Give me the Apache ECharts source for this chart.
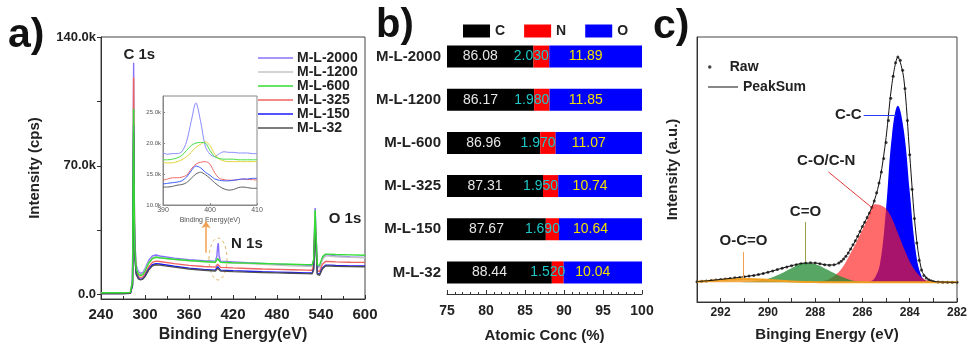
<!DOCTYPE html>
<html>
<head>
<meta charset="utf-8">
<script src="https://cdn.jsdelivr.net/npm/echarts@6/dist/echarts.min.js"></script>
<style>
  html, body { margin: 0; padding: 0; background: #fff; }
  #chart { width: 970px; height: 348px; }
</style>
</head>
<body>
<div id="chart"></div>
<script>
// ---- panel a: XPS survey (values in k counts) ----
const surveyEnergy = [240, 270, 280, 282, 283, 283.8, 284.5, 285.3, 286, 288, 291, 294, 297, 300, 305, 310, 315, 320, 340, 360,
  380, 396, 398, 399, 400, 401, 403, 420, 440, 460, 480, 500, 520, 528, 530, 531, 532, 533, 535, 538, 542, 546, 550, 560, 580, 600];
const survey2000 = [0.8, 0.8, 1.0, 1.5, 8, 70, 126, 60, 30, 16, 12.5, 11.5, 12, 14, 18.5, 21, 21.5, 21, 19.8, 19,
  18.4, 18.2, 21, 26, 28, 21, 18.2, 17.8, 17.3, 16.9, 16.5, 16.2, 15.9, 15.8, 19, 33, 47, 36, 16, 15, 19.5, 21.5, 21.5, 21, 20.5, 20.2];
const survey1200 = [0.7, 0.7, 0.9, 1.4, 7, 66, 118, 56, 28, 15, 11.5, 10.8, 11.3, 13.3, 17.5, 20, 20.5, 20, 19, 18.3,
  17.8, 17.6, 18.5, 20, 20.5, 19, 17.6, 17.2, 16.8, 16.4, 16, 15.7, 15.4, 15.3, 18, 31, 44, 34, 15, 14.5, 19, 21, 21, 20.6, 20.2, 20];
const survey600 = [1.0, 1.0, 1.2, 1.6, 7, 58, 101, 48, 25, 14, 11, 10.3, 10.8, 12.8, 17, 19.5, 20.3, 20, 19.2, 18.5,
  18, 17.6, 18.2, 19.5, 20, 18.8, 17.6, 17.3, 17.1, 16.9, 16.7, 16.5, 16.3, 16.2, 19, 33, 46, 34, 16, 16, 20.5, 22, 22, 21.8, 21.6, 21.4];
const survey325 = [0.6, 0.6, 0.8, 1.2, 6, 62, 118, 55, 27, 13, 9.8, 9.2, 9.6, 11.3, 15, 17.5, 18.2, 18, 16.8, 15.9,
  15.3, 14.9, 15.5, 16.5, 17, 16, 14.8, 14.5, 14.2, 13.9, 13.7, 13.5, 13.3, 13.2, 16, 29, 41, 30, 13, 12.5, 16.5, 18, 18, 17.8, 17.6, 17.5];
const survey150 = [0.5, 0.5, 0.7, 1.1, 5, 50, 92, 44, 22, 11.5, 8.8, 8.3, 8.7, 10.2, 13.8, 16.2, 16.8, 16.6, 15.4, 14.4,
  13.7, 13.3, 13.9, 15.2, 15.5, 14.3, 13.3, 13, 12.7, 12.4, 12.2, 12, 11.8, 11.7, 14, 27, 39, 28, 11.5, 11, 14.5, 16, 16, 15.8, 15.6, 15.5];
const survey32 = [0.5, 0.5, 0.7, 1.0, 5, 48, 88, 42, 21, 11, 8.5, 8, 8.4, 9.8, 13.3, 15.6, 16.2, 16, 14.9, 13.9,
  13.2, 12.8, 13.3, 14.3, 14.6, 13.7, 12.8, 12.5, 12.2, 12, 11.8, 11.6, 11.4, 11.3, 13.5, 26, 38, 27, 11, 10.5, 14, 15.5, 15.6, 15.4, 15.2, 15.1];
const surveyTicks = [0, 70000, 140000];

// inset: N 1s region (k counts)
const insetEnergy = [390, 391, 392, 393, 394, 395, 396, 397, 398, 399, 400, 401, 402, 403, 404, 405, 406, 407, 408, 409, 410];
const inset2000 = [18.4, 18.2, 18.3, 18.3, 18.6, 20.2, 23.5, 26.5, 23.5, 19.5, 18.2, 17.8, 18.3, 18.6, 18.5, 18.5, 18.4, 18.4, 18.4, 18.3, 18.3];
const inset1200 = [16.9, 16.8, 16.8, 17.0, 17.3, 17.8, 18.5, 19.3, 19.8, 20.2, 19.6, 18.2, 17.4, 17.1, 17.0, 17.0, 17.0, 17.0, 17.0, 17.0, 17.0];
const inset600 = [17.3, 17.3, 17.4, 17.6, 18.0, 18.8, 19.6, 20.0, 20.1, 20.0, 18.8, 17.8, 17.5, 17.4, 17.4, 17.4, 17.3, 17.3, 17.3, 17.3, 17.3];
const inset325 = [14.0, 14.2, 14.4, 14.4, 14.5, 14.8, 15.8, 16.6, 16.9, 17.0, 16.6, 15.2, 14.3, 14.1, 14.0, 14.0, 14.1, 14.2, 14.1, 14.1, 14.0];
const inset150 = [13.4, 13.5, 13.6, 13.7, 13.9, 14.5, 15.5, 16.3, 16.0, 15.3, 14.8, 14.2, 14.0, 13.9, 13.9, 14.0, 14.1, 14.2, 14.2, 14.3, 14.3];
const inset32 = [12.9, 12.9, 13.0, 13.2, 13.3, 13.6, 14.3, 15.0, 15.3, 14.9, 14.3, 13.6, 13.0, 12.6, 12.4, 12.5, 12.8, 12.9, 12.8, 12.7, 12.7];
const insetTicks = [10000, 15000, 20000, 25000];

// ---- panel b: atomic concentration ----
const samples = ['M-L-2000', 'M-L-1200', 'M-L-600', 'M-L-325', 'M-L-150', 'M-L-32'];
const concC = [86.08, 86.17, 86.96, 87.31, 87.67, 88.44];
const concN = [2.03, 1.98, 1.97, 1.95, 1.69, 1.52];
const concO = [11.89, 11.85, 11.07, 10.74, 10.64, 10.04];

// ---- panel c: C 1s fit ----
const c1sEnergy = [293, 292.5, 292, 291.5, 291, 290.5, 290, 289.5, 289, 288.5, 288, 287.5, 287.25, 287, 286.75, 286.5,
  286.25, 286, 285.75, 285.5, 285.25, 285, 284.75, 284.5, 284.25, 284, 283.75, 283.5, 283.25, 283, 282.5, 282];
const peakSum = [0.3, 0.7, 1.2, 1.7, 2.3, 3.0, 4.1, 5.5, 6.8, 7.8, 7.9, 7.1, 7.1, 7.9, 10.0, 13.6,
  17.8, 22.8, 27.4, 33.2, 42.5, 59.0, 81.0, 91.8, 83.0, 52.0, 21.0, 5.0, 1.5, 0.4, 0.1, 0.0];
const peakCC = [0, 0, 0, 0, 0, 0, 0, 0, 0, 0, 0, 0, 0, 0, 0, 0,
  0, 0, 0.3, 1.5, 8, 30, 60, 72, 62, 37, 13, 2.5, 0.4, 0, 0, 0];
const peakCO = [0, 0, 0, 0, 0, 0, 0, 0, 0, 0, 0.2, 1.0, 2.2, 4.2, 7.5, 12.0,
  16.5, 21.5, 26.5, 31.8, 31.5, 30.0, 26.0, 20.0, 14.0, 8.5, 4.5, 2.0, 0.7, 0.2, 0, 0];
const peakCdO = [0, 0, 0, 0.1, 0.2, 0.6, 1.5, 3.3, 5.8, 7.9, 7.4, 5.2, 4.0, 2.8, 1.8, 1.0,
  0.5, 0.3, 0.1, 0, 0, 0, 0, 0, 0, 0, 0, 0, 0, 0, 0, 0];
const peakOCdO = [0.3, 0.6, 1.0, 1.3, 1.4, 1.3, 1.0, 0.7, 0.4, 0.2, 0.1, 0, 0, 0, 0, 0,
  0, 0, 0, 0, 0, 0, 0, 0, 0, 0, 0, 0, 0, 0, 0, 0];
const rawEnergy = [293.0, 292.8, 292.6, 292.4, 292.2, 292.0, 291.8, 291.6, 291.4, 291.2, 291.0, 290.8, 290.6, 290.4, 290.2, 290.0,
  289.8, 289.6, 289.4, 289.2, 289.0, 288.8, 288.6, 288.4, 288.2, 288.0, 287.8, 287.6, 287.4, 287.2, 287.0,
  286.9, 286.8, 286.7, 286.6, 286.5, 286.4, 286.3, 286.2, 286.1, 286.0, 285.9, 285.8, 285.7, 285.6, 285.5, 285.4, 285.3, 285.2, 285.1,
  285.0, 284.9, 284.8, 284.7, 284.6, 284.5, 284.4, 284.3, 284.2, 284.1, 284.0, 283.9, 283.8, 283.7, 283.6, 283.5, 283.4, 283.3, 283.2, 283.1,
  283.0, 282.8, 282.6, 282.4, 282.2, 282.0];
const rawCounts = [0.3, 0.5, 0.6, 0.8, 1.0, 1.2, 1.4, 1.6, 1.9, 2.0, 2.3, 2.6, 2.8, 3.2, 3.6, 4.1,
  4.6, 5.2, 5.8, 6.3, 6.8, 7.2, 7.6, 7.9, 8.0, 7.9, 7.6, 7.2, 7.0, 7.2, 7.9,
  8.6, 9.5, 10.6, 12.0, 13.6, 15.3, 17.0, 18.8, 20.7, 22.8, 24.5, 26.4, 28.3, 30.5, 33.2, 36.5, 40.5, 45.0, 50.5,
  57.0, 66.0, 75.0, 84.0, 89.5, 91.8, 90.5, 86.5, 79.0, 66.0, 52.0, 38.0, 26.0, 16.0, 9.0, 5.0, 2.8, 1.8, 1.1, 0.7,
  0.4, 0.2, 0.1, 0.1, 0.0, 0.0];
const c1sTicks = [282, 284, 286, 288, 290, 292];
const c1sMinorTicks = [282, 283, 284, 285, 286, 287, 288, 289, 290, 291, 292, 293];

const FONT = '"Liberation Sans", Arial, sans-serif';
const INK = '#222';
const pair = (xs, ys, k) => xs.map((x, i) => [x, ys[i] * (k || 1)]);
const boldText = (size, extra) => Object.assign({ fontFamily: FONT, fontWeight: 'bold', fontSize: size, color: INK }, extra || {});

const chart = echarts.init(document.getElementById('chart'));

const surveyStyle = {
  'M-L-2000': '#8a70ff', 'M-L-1200': '#c4c4c4', 'M-L-600': '#33dd33',
  'M-L-325': '#f06262', 'M-L-150': '#1a1aff', 'M-L-32': '#505050'
};
const surveyData = {
  'M-L-2000': survey2000, 'M-L-1200': survey1200, 'M-L-600': survey600,
  'M-L-325': survey325, 'M-L-150': survey150, 'M-L-32': survey32
};
// draw order: green ends up on top of the spike
const drawOrder = ['M-L-2000', 'M-L-1200', 'M-L-325', 'M-L-150', 'M-L-32', 'M-L-600'];

const series = drawOrder.map(name => ({
  name: name, type: 'line', xAxisIndex: 0, yAxisIndex: 0,
  data: pair(surveyEnergy, surveyData[name], 1000),
  symbol: 'none', lineStyle: { color: surveyStyle[name], width: 1.4 },
  itemStyle: { color: surveyStyle[name] }
}));

// peak labels + arrow on panel a
series[0].markPoint = {
  symbol: 'rect', symbolSize: 1, itemStyle: { color: 'transparent' }, silent: true,
  label: boldText(15, { show: true, position: 'inside', formatter: '{b}' }),
  data: [
    { name: 'C 1s', coord: [292.2, 130400] },
    { name: 'N 1s', coord: [439, 27500] },
    { name: 'O 1s', coord: [572.7, 41400] }
  ]
};
series[0].markLine = {
  silent: true, symbol: ['none', 'arrow'], symbolSize: 7,
  lineStyle: { color: '#f0a050', width: 1.5, type: 'solid' }, label: { show: false },
  data: [[{ coord: [383.2, 22700] }, { coord: [383.2, 39800] }]]
};

const insetColors = ['#8a8cff', '#e2d43a', '#44dd44', '#f06a6a', '#3a5cff', '#606060'];
[inset2000, inset1200, inset600, inset325, inset150, inset32].forEach((vals, i) => {
  series.push({
    type: 'line', xAxisIndex: 1, yAxisIndex: 1, data: pair(insetEnergy, vals, 1000),
    symbol: 'none', smooth: 0.3, lineStyle: { color: insetColors[i], width: 1 }
  });
});

// panel b stacked bars
const barLabel = (color, digits) => ({
  show: true, position: 'inside', offset: [-10, 0], color: color,
  fontFamily: FONT, fontSize: 14, formatter: p => p.value.toFixed(digits)
});
series.push(
  { name: 'C', type: 'bar', xAxisIndex: 2, yAxisIndex: 2, stack: 'conc', barWidth: 22, data: concC,
    itemStyle: { color: '#000' }, label: barLabel('#e6e6e6', 2) },
  { name: 'N', type: 'bar', xAxisIndex: 2, yAxisIndex: 2, stack: 'conc', barWidth: 22, data: concN,
    itemStyle: { color: '#ff0000' }, label: barLabel('#1fc7c7', 3) },
  { name: 'O', type: 'bar', xAxisIndex: 2, yAxisIndex: 2, stack: 'conc', barWidth: 22, data: concO,
    itemStyle: { color: '#0000ff' }, label: barLabel('#f2e000', 2) }
);

// panel c fitted components
const tagPoint = (name, coord) => ({ name: name, coord: coord });
const annot = (color, line, tag) => ({
  markLine: {
    silent: true, symbol: 'none', label: { show: false },
    lineStyle: { color: color, width: 1, type: 'solid' }, data: [line]
  },
  markPoint: {
    symbol: 'rect', symbolSize: 1, itemStyle: { color: 'transparent' }, silent: true,
    label: boldText(15, { show: true, position: 'inside', formatter: '{b}' }), data: [tag]
  }
});
series.push(Object.assign({
  type: 'line', xAxisIndex: 3, yAxisIndex: 3, data: pair(c1sEnergy, peakCC), smooth: 0.4,
  symbol: 'none', lineStyle: { width: 0 }, areaStyle: { color: '#0000ff', opacity: 1 }
}, annot('#2a3aff', [{ coord: [285.95, 68.2] }, { coord: [284.57, 68.2] }], tagPoint('C-C', [286.6, 68.2]))));
series.push(Object.assign({
  type: 'line', xAxisIndex: 3, yAxisIndex: 3, data: pair(c1sEnergy, peakCO), smooth: 0.3,
  symbol: 'none', lineStyle: { width: 0 }, areaStyle: { color: 'rgba(255,30,30,0.66)', opacity: 1 }
}, annot('#e03a3a', [{ coord: [287.44, 45.0] }, { coord: [285.63, 30.7] }], tagPoint('C-O/C-N', [287.53, 49.6]))));
series.push(Object.assign({
  type: 'line', xAxisIndex: 3, yAxisIndex: 3, data: pair(c1sEnergy, peakCdO), smooth: 0.4,
  symbol: 'none', lineStyle: { width: 0 }, areaStyle: { color: 'rgba(30,135,45,0.74)', opacity: 1 }
}, annot('#9aa040', [{ coord: [288.41, 24.6] }, { coord: [288.41, 8.3] }], tagPoint('C=O', [288.41, 28.6]))));
series.push(Object.assign({
  type: 'line', xAxisIndex: 3, yAxisIndex: 3, data: pair(c1sEnergy, peakOCdO), smooth: 0.4,
  symbol: 'none', lineStyle: { color: '#f0a020', width: 2 }, areaStyle: { color: 'rgba(240,150,30,0.8)', opacity: 1 }
}, annot('#f0a050', [{ coord: [291.03, 12.4] }, { coord: [291.03, 1.0] }], tagPoint('O-C=O', [291.03, 16.9]))));
series.push({
  name: 'PeakSum', type: 'line', xAxisIndex: 3, yAxisIndex: 3, data: pair(c1sEnergy, peakSum), smooth: 0.3,
  symbol: 'none', lineStyle: { color: '#111', width: 1 }, itemStyle: { color: '#111' }
});
series.push({
  name: 'Raw', type: 'scatter', xAxisIndex: 3, yAxisIndex: 3, data: pair(rawEnergy, rawCounts),
  symbol: 'circle', symbolSize: 3, itemStyle: { color: '#111' }
});

const axisLineStyle = { show: true, onZero: false, lineStyle: { color: '#333', width: 1 } };
const tickIn = (len, extra) => Object.assign({ show: true, inside: true, length: len, lineStyle: { color: '#333' } }, extra || {});

chart.setOption({
  animation: false,
  backgroundColor: '#fff',
  textStyle: { fontFamily: FONT },
  title: [
    { text: 'a)', left: 8, top: 15, padding: 0, textStyle: boldText(41, { color: '#111' }) },
    { text: 'b)', left: 376, top: 6, padding: 0, textStyle: boldText(40, { color: '#111' }) },
    { text: 'c)', left: 653, top: 6, padding: 0, textStyle: boldText(41, { color: '#111' }) }
  ],
  grid: [
    { left: 101, right: 605, top: 37, bottom: 45, show: true, borderColor: '#444', borderWidth: 1 },
    { left: 163, right: 713, top: 96, bottom: 143, show: true, borderColor: '#888', borderWidth: 1, backgroundColor: '#fff' },
    { left: 447, right: 328, top: 35, bottom: 50 },
    { left: 697, right: 11, top: 37, bottom: 46, show: true, borderColor: '#444', borderWidth: 1 }
  ],
  legend: [
    { data: ['M-L-2000', 'M-L-1200', 'M-L-600', 'M-L-325', 'M-L-150', 'M-L-32'], orient: 'vertical',
      left: 258, top: 51, padding: 0, icon: 'rect', itemWidth: 35, itemHeight: 1.5, itemGap: 0, selectedMode: false,
      textStyle: boldText(14, { padding: [0, 0, 0, -1], lineHeight: 14 }) },
    { data: ['C', 'N', 'O'], left: 463, top: 24, padding: 0, itemWidth: 27, itemHeight: 13, itemGap: 19, icon: 'rect',
      selectedMode: false, textStyle: boldText(14) },
    { data: [{ name: 'Raw', icon: 'circle' }], left: 708, top: 60, padding: 0,
      itemWidth: 30, itemHeight: 3.5, selectedMode: false, textStyle: boldText(14) },
    { data: [{ name: 'PeakSum', icon: 'rect' }], left: 708, top: 80, padding: 0,
      itemWidth: 30, itemHeight: 1, selectedMode: false, textStyle: boldText(14) }
  ],
  xAxis: [
    { type: 'value', gridIndex: 0, min: 240, max: 600, interval: 60,
      name: 'Binding Energy(eV)', nameLocation: 'middle', nameGap: 28, nameTextStyle: boldText(16),
      axisLine: axisLineStyle, axisTick: tickIn(4),
      minorTick: { show: true, splitNumber: 2, length: 3, lineStyle: { color: '#333' } },
      axisLabel: boldText(15, { margin: 8 }), splitLine: { show: false } },
    { type: 'value', gridIndex: 1, min: 390, max: 410, interval: 10,
      name: 'Binding Energy(eV)', nameLocation: 'middle', nameGap: 12, nameTextStyle: { fontFamily: FONT, fontSize: 7, color: '#555' },
      axisLine: { show: true, lineStyle: { color: '#888' } }, axisTick: { show: true, inside: true, length: 2, lineStyle: { color: '#888' } },
      axisLabel: { fontFamily: FONT, fontSize: 7, color: '#555', margin: 2 }, splitLine: { show: false } },
    { type: 'value', gridIndex: 2, min: 75, max: 100, interval: 5,
      name: 'Atomic Conc (%)', nameLocation: 'middle', nameGap: 34, nameTextStyle: boldText(15),
      axisLine: axisLineStyle, axisTick: tickIn(4),
      minorTick: { show: true, splitNumber: 5, length: 2, lineStyle: { color: '#333' } },
      axisLabel: boldText(14, { margin: 10 }), splitLine: { show: false } },
    { type: 'value', gridIndex: 3, min: 282, max: 293, inverse: true,
      name: 'Binging Energy (eV)', nameLocation: 'middle', nameGap: 25, nameTextStyle: boldText(15),
      axisLine: axisLineStyle, axisTick: tickIn(4, { customValues: c1sMinorTicks }),
      axisLabel: boldText(12, { margin: 5, customValues: c1sTicks }), splitLine: { show: false } }
  ],
  yAxis: [
    { type: 'value', gridIndex: 0, min: -2400, max: 140000,
      name: 'Intensity (cps)', nameLocation: 'middle', nameGap: 59, nameTextStyle: boldText(15),
      axisLine: axisLineStyle,
      axisTick: { show: true, length: 4, customValues: [0, 35000, 70000, 105000, 140000], lineStyle: { color: '#333' } },
      axisLabel: boldText(13, { margin: 5, customValues: surveyTicks,
        formatter: v => v === 0 ? '0.0' : (v / 1000).toFixed(1) + 'k' }),
      splitLine: { show: false } },
    { type: 'value', gridIndex: 1, min: 10000, max: 27600,
      axisLine: { show: true, lineStyle: { color: '#888' } },
      axisTick: { show: true, inside: true, length: 2, customValues: insetTicks, lineStyle: { color: '#888' } },
      axisLabel: { fontFamily: FONT, fontSize: 6, color: '#555', margin: 2, customValues: insetTicks,
        formatter: v => (v / 1000).toFixed(1) + 'k' },
      splitLine: { show: false } },
    { type: 'category', gridIndex: 2, data: samples, inverse: true,
      axisLine: { show: false }, axisTick: { show: false },
      axisLabel: boldText(15, { margin: 6 }) },
    { type: 'value', gridIndex: 3, min: -8, max: 100,
      name: 'Intensity (a.u.)', nameLocation: 'middle', nameGap: 17, nameTextStyle: boldText(15),
      axisLine: axisLineStyle, axisTick: { show: false },
      axisLabel: { show: false }, splitLine: { show: false } }
  ],
  graphic: [
    { type: 'ellipse', shape: { cx: 218, cy: 259, rx: 9, ry: 21 }, silent: true,
      style: { fill: 'none', stroke: '#e3b868', lineWidth: 1, lineDash: [3, 3] } }
  ],
  series: series
});
</script>
</body>
</html>
